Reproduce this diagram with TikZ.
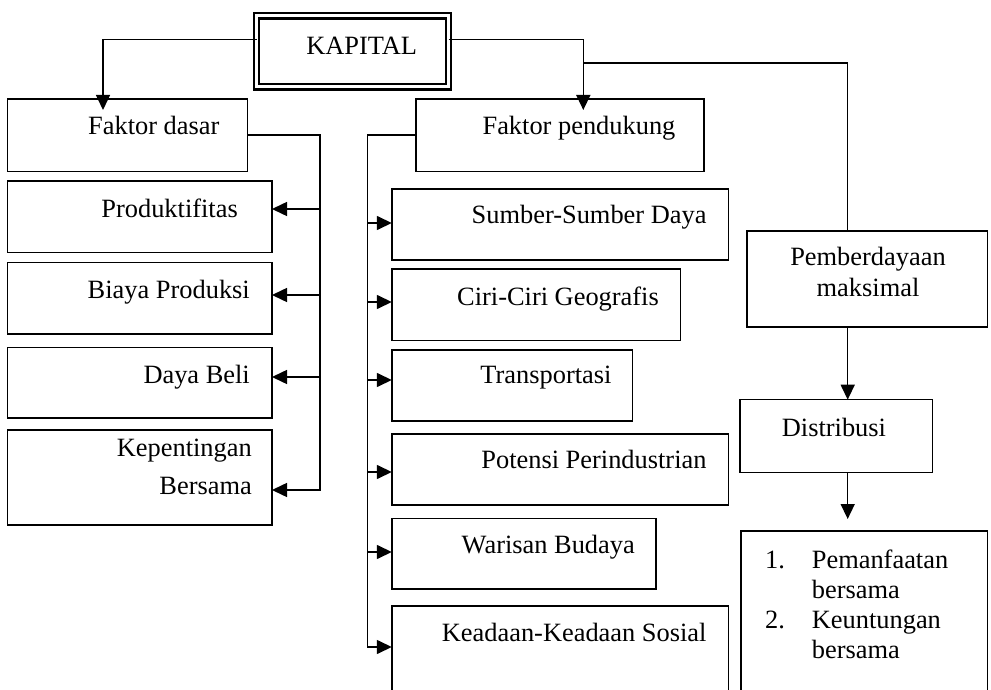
\documentclass[tikz,border=0pt]{standalone}
\usepackage{fontspec}
\setmainfont{Liberation Serif}
\usetikzlibrary{arrows.meta}
\tikzset{
	kotak/.style={draw,line width=1.5pt,anchor=north west,inner sep=0pt,outer sep=0pt},
	teks/.style={inner sep=0pt,anchor=base east},
	garis/.style={line width=1.5pt},
	panah/.style={garis,-{Triangle[length=15pt,width=14pt]}}
}
\begin{document}
\begin{tikzpicture}[x=1pt,y=-1pt,font=\fontsize{26.4}{32}\selectfont]
			\useasboundingbox (0,0) rectangle (991,690);
			% kotak utama
			\node[kotak,double,line width=2.2pt,double distance=3pt,minimum width=192pt,minimum height=71pt] (kapital) at (256.7,16) {};
			\node[teks,anchor=base] (kapital-t) at (361.7,55) {KAPITAL};
			% kolom kiri
			\node[kotak,minimum width=240pt,minimum height=72.5pt] (fdasar) at (7.5,99) {};
			\node[teks,anchor=base west] (fdasar-t) at (88,135) {Faktor dasar};
			\node[kotak,minimum width=264.5pt,minimum height=71.7pt] (produk) at (7.5,180.8) {};
			\node[teks] (produk-t) at (238,217) {Produktifitas};
			\node[kotak,minimum width=264.5pt,minimum height=71.7pt] (biaya) at (7.5,262.5) {};
			\node[teks] (biaya-t) at (250,298) {Biaya Produksi};
			\node[kotak,minimum width=264.5pt,minimum height=70.5pt] (dayabeli) at (7.5,347.5) {};
			\node[teks] (dayabeli-t) at (250,383) {Daya Beli};
			\node[kotak,minimum width=264.5pt,minimum height=95.2pt] (kepentingan) at (7.5,429.8) {};
			\node[teks,align=right,font=\fontsize{26.4}{37.6}\selectfont] (kepentingan-t) at (252,494) {Kepentingan\\Bersama};
			% kolom tengah
			\node[kotak,minimum width=288.2pt,minimum height=72.5pt] (fpendukung) at (415.8,99) {};
			\node[teks,anchor=base] (fpendukung-t) at (579,135) {Faktor pendukung};
			\node[kotak,minimum width=336.7pt,minimum height=71pt] (sumber) at (391.8,189) {};
			\node[teks] (sumber-t) at (706.7,223.3) {Sumber-Sumber Daya};
			\node[kotak,minimum width=288.5pt,minimum height=71.3pt] (ciri) at (391.8,269) {};
			\node[teks] (ciri-t) at (659,305) {Ciri-Ciri Geografis};
			\node[kotak,minimum width=240.7pt,minimum height=71pt] (transport) at (391.8,350) {};
			\node[teks] (transport-t) at (611.7,383.3) {Transportasi};
			\node[kotak,minimum width=336.7pt,minimum height=71pt] (potensi) at (391.8,434) {};
			\node[teks] (potensi-t) at (706.7,468.3) {Potensi Perindustrian};
			\node[kotak,minimum width=264.2pt,minimum height=70.5pt] (warisan) at (391.8,518.5) {};
			\node[teks] (warisan-t) at (635,553.3) {Warisan Budaya};
			\node[kotak,minimum width=336.7pt,minimum height=100pt] (sosial) at (391.8,605.8) {};
			\node[teks] (sosial-t) at (706.7,641.7) {Keadaan-Keadaan Sosial};
			% kolom kanan
			\node[kotak,minimum width=240.5pt,minimum height=96.2pt] (pemberdayaan) at (747,230.8) {};
			\node[teks,anchor=base,align=center,font=\fontsize{26.4}{31.7}\selectfont] (pemberdayaan-t) at (868,296.7) {Pemberdayaan\\maksimal};
			\node[kotak,minimum width=192.5pt,minimum height=72.8pt] (distribusi) at (740,399.7) {};
			\node[teks,anchor=base west] (distribusi-t) at (781.7,436.7) {Distribusi};
			\node[kotak,minimum width=246.7pt,minimum height=180pt] (hasil) at (740.8,531) {};
			\node[teks,anchor=base west,font=\fontsize{26.4}{30}\selectfont] (hasil-t) at (765,568.3)
				{\begin{tabular}[t]{@{}p{46.7pt}@{}l@{}}1. & Pemanfaatan\\ & bersama\\ 2. & Keuntungan\\ & bersama\end{tabular}};
			% penghubung
			\coordinate (fdin) at (103,110);
			\coordinate (fpin) at (583.3,110);
			\coordinate (cabang) at (583.3,63);
			\coordinate (kanan) at (847.7,63);
			\coordinate (hin) at (847.7,519);
			\coordinate (tkiri) at (320,491);
			\coordinate (ttengah) at (367.3,647);
			\draw[panah] ([yshift=12pt]kapital.west) -| (fdin);
			\draw[panah] ([yshift=12pt]kapital.east) -| (fpin);
			\draw[garis] (cabang) -- (kanan) -- (kanan |- pemberdayaan.north);
			\draw[panah] (kanan |- pemberdayaan.south) -- (kanan |- distribusi.north);
			\draw[panah] (kanan |- distribusi.south) -- (hin);
			\draw[garis] (fdasar.east) -| (tkiri);
			\draw[garis] (fpendukung.west) -| (ttengah);
			\foreach \n/\y in {produk/209,biaya/295,dayabeli/377,kepentingan/490}{
				\coordinate (a-\n) at (320,\y);
				\draw[panah] (a-\n) -- (a-\n -| \n.east);
			}
			\foreach \n/\y in {sumber/223,ciri/302,transport/380,potensi/472,warisan/552,sosial/647}{
				\coordinate (b-\n) at (367.3,\y);
				\draw[panah] (b-\n) -- (b-\n -| \n.west);
			}
		\end{tikzpicture}
\end{document}
